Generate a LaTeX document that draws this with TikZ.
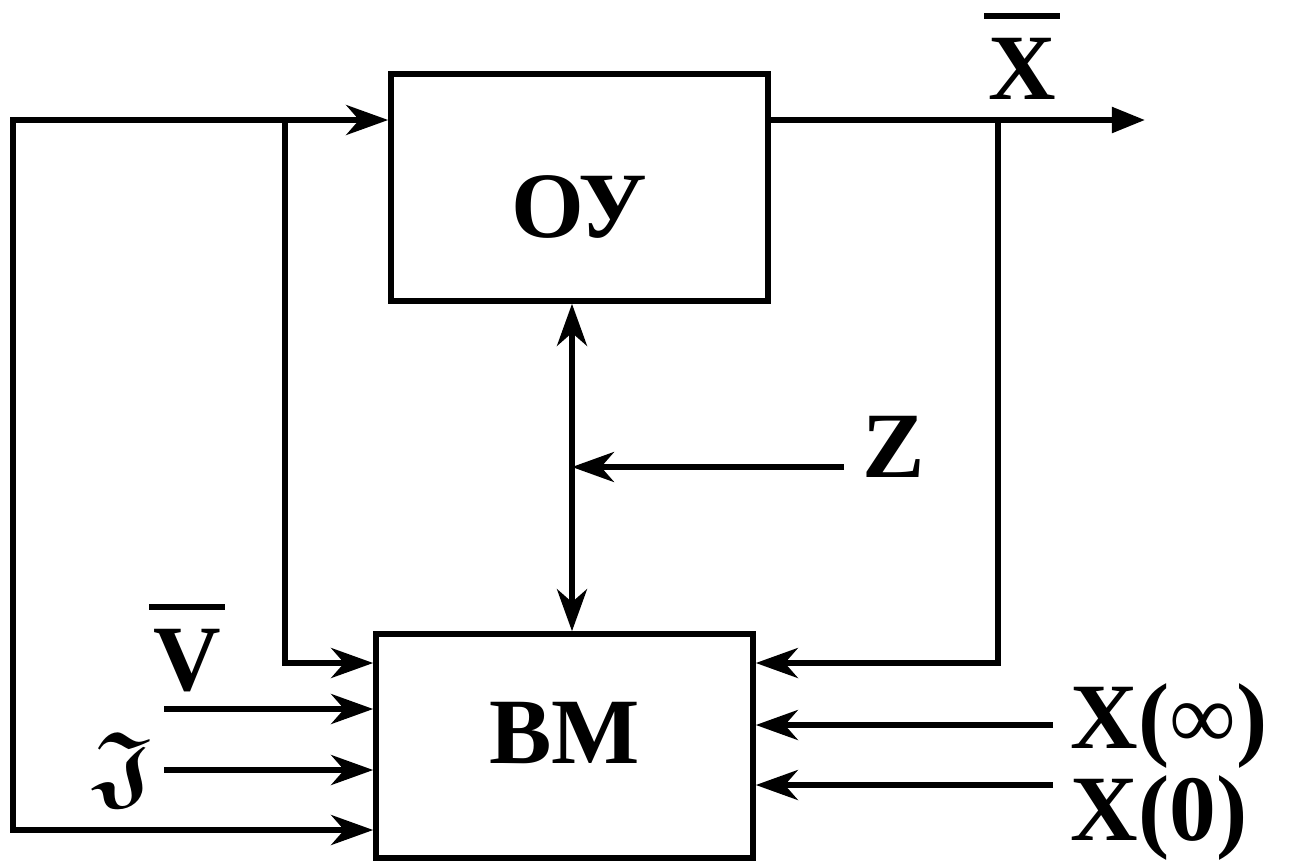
\documentclass[tikz,border=0pt]{standalone}
\usepackage{amsmath,amssymb}
\usepackage{fontspec}
\setmainfont{Liberation Serif}[BoldFont={Liberation Serif Bold}]
\usetikzlibrary{arrows.meta,positioning}
\newcommand{\barlbl}[1]{\setbox0\hbox{#1}\vbox{\offinterlineskip\hbox{\kern-1.1pt\vrule width \dimexpr\wd0+2.2pt\relax height 1.7pt\kern-1.1pt}\kern5.4pt\box0}}
\tikzset{
  blk/.style={rectangle,draw,line width=0.055cm,inner sep=0pt,
              minimum width=3.77cm,font=\fontsize{26.6}{30}\selectfont\bfseries},
  lbl/.style={inner sep=0pt,font=\fontsize{26.6}{30}\selectfont\bfseries},
  sig/.style={->,line width=0.052cm},
  dsig/.style={<->,line width=0.052cm},
  outsig/.style={-{Triangle[length=0.33cm,width=0.25cm]},line width=0.052cm},
  >={Stealth[length=0.42cm,width=0.3cm,inset=0.13cm]},
}
\begin{document}
\begin{tikzpicture}[x=0.01cm,y=-0.01cm]
    \useasboundingbox (0,0) rectangle (1293,863);
    % blocks
    \node[blk,minimum height=2.27cm,text height=1cm,text depth=0pt] (oy) at (579.5,187.5) {ОУ};
    \node[blk,minimum height=2.24cm,text depth=0.27cm] (bm) at (564.5,746) {ВМ};

    % free ends of the lines
    \coordinate (lt) at (13,120);
    \coordinate (lb) at (13,830);
    \coordinate (ja) at (285,120);
    \coordinate (jb) at (998,120);
    \coordinate (xo) at (1145,120);
    \coordinate (fb) at (0,663);
    \coordinate (zm) at (572,467);
    \coordinate (zi) at (844,467);
    \coordinate (vi) at (164,709);
    \coordinate (ji) at (164,770);
    \coordinate (xa) at (1053,725);
    \coordinate (xb) at (1053,785);

    % labels
    \node[lbl,anchor=base] (xbar) at (1022,99) {\barlbl{X}};
    \node[lbl,anchor=base] (z) at (894,477) {Z};
    \node[lbl,anchor=base] (vbar) at (187,690) {\barlbl{V}};
    \node[lbl] (im) at (123,770) {$\boldsymbol{\mathfrak{J}}$};
    \node[lbl,anchor=base west] (xinf) at (1070,748) {X(\textmd{∞})};
    \node[lbl,anchor=base west] (xnul) at (1070,840) {X(0)};

    % connections
    \draw[dsig] (lt -| oy.west) -- (lt) -- (lb) -- (lb -| bm.west);
    \draw[sig] (ja) |- (fb -| bm.west);
    \draw[outsig] (oy.east |- xo) -- (xo);
    \draw[sig] (jb) |- (fb -| bm.east);
    \draw[dsig] (oy.south -| zm) -- (bm.north -| zm);
    \draw[sig] (zi) -- (zm);
    \draw[sig] (vi) -- (vi -| bm.west);
    \draw[sig] (ji) -- (ji -| bm.west);
    \draw[sig] (xa) -- (xa -| bm.east);
    \draw[sig] (xb) -- (xb -| bm.east);
\end{tikzpicture}
\end{document}
